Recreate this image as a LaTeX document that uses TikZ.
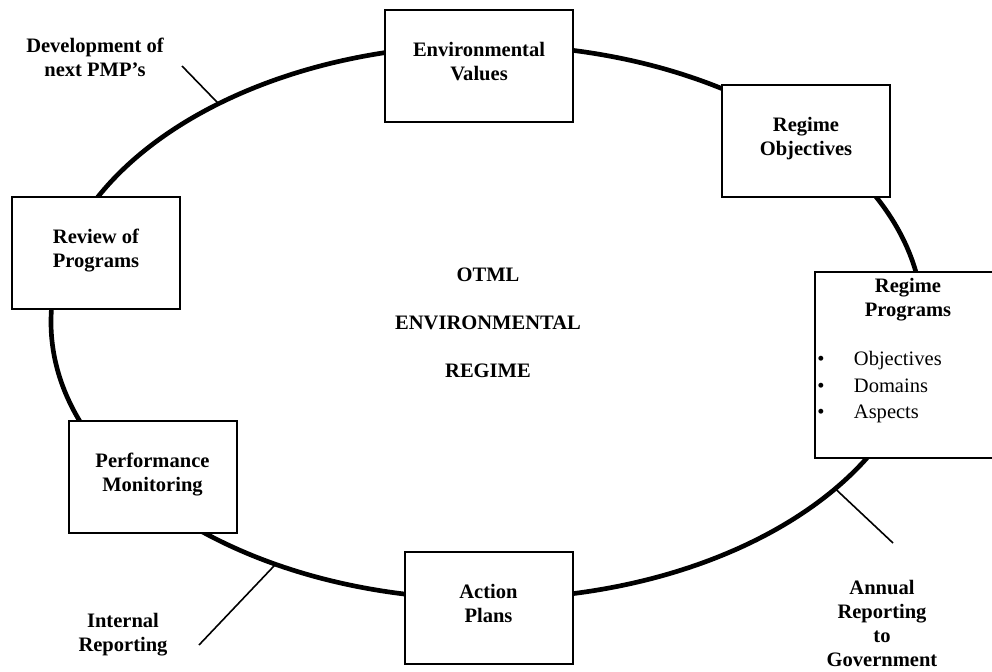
\documentclass[tikz,border=0pt]{standalone}
\usepackage{fontspec}
\setmainfont{Liberation Serif}
\usetikzlibrary{positioning}

\newcommand\dotmark{\makebox[27.5pt][l]{\textbullet}}

\begin{document}
\begin{tikzpicture}
	[
	  x=0.75pt, y=-0.75pt,
	  every node/.style={font=\fontsize{15.4}{18}\selectfont\bfseries, align=center},
	  box/.style={draw, line width=1.5pt, fill=white, minimum width=126pt,
	    minimum height=84pt, execute at end node={\rule[-7.5pt]{0pt}{0pt}}},
	  aims/.style={font=\fontsize{15.4}{20}\selectfont, align=left, inner sep=0pt},
	  ring/.style={line width=3.5pt},
	  tick/.style={line width=1.2pt},
	]
	\useasboundingbox (0,0) rectangle (992,671);
	\coordinate (hub) at (487,322);
	\draw [ring] (hub) ellipse [x radius=436, y radius=277];
	% boxes round the cycle
	\node (values) [box, minimum width=141pt] at (479,66) {Environmental\\Values};
	\node (objectives) [box] at (806,141) {Regime\\Objectives};
	\node (programs) [box, minimum width=145pt, minimum height=139.5pt] at (912,365) {};
	\node (progtitle) [inner sep=0pt, below=5pt of programs.north, xshift=-3pt] {Regime\\Programs};
	\node (proglist) [aims, anchor=north west] at (817,351)
	  {\dotmark Objectives\\
	   \dotmark Domains\\
	   \dotmark Aspects};
	\node (plans) [box] at (488.5,608) {Action\\Plans};
	\node (monitoring) [box] at (152.5,477) {Performance\\Monitoring};
	\node (review) [box] at (96,253) {Review of\\Programs};
	% centre
	\node (regime) at (488,323) {OTML\\[18pt]ENVIRONMENTAL\\[18pt]REGIME};
	% reporting labels
	\node (devlabel) at (95,57) {Development of\\next PMP’s};
	\node (intlabel) at (123,635) {Internal\\Reporting};
	\node (annlabel) at (882,623) {Annual\\Reporting\\to\\Government};
	\path (hub) ++(232:436 and 277) coordinate (dev-foot);
	\path (hub) ++(119:436 and 277) coordinate (int-foot);
	\path (hub) ++(37:436 and 277) coordinate (ann-foot);
	\coordinate (dev-tip) at (182,66);
	\coordinate (int-tip) at (199,645);
	\coordinate (ann-tip) at (893,543);
	\draw [tick] (dev-foot) -- (dev-tip);
	\draw [tick] (int-foot) -- (int-tip);
	\draw [tick] (ann-foot) -- (ann-tip);
\end{tikzpicture}
\end{document}
